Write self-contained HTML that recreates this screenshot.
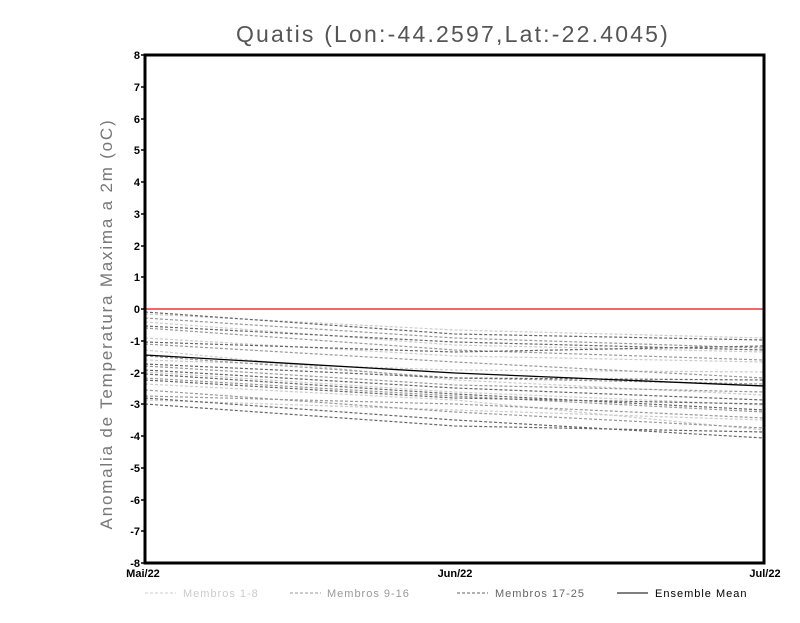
<!DOCTYPE html>
<html><head><style>body{margin:0;background:#fff}</style></head><body>
<svg width="800" height="618" xmlns="http://www.w3.org/2000/svg" font-family="Liberation Sans, sans-serif">
<rect width="800" height="618" fill="#fff"/>
<text x="453" y="42" text-anchor="middle" font-size="23" fill="#555" letter-spacing="2.2">Quatis (Lon:-44.2597,Lat:-22.4045)</text>
<text transform="translate(112,324) rotate(-90)" text-anchor="middle" font-size="17" fill="#777" letter-spacing="1.8">Anomalia de Temperatura Maxima a 2m (oC)</text>
<g fill="none" stroke-width="1.2" stroke-dasharray="3,2">
<g stroke="#ccc">
<polyline points="145,314 455,330 764,338"/>
<polyline points="145,322 455,345 764,352"/>
<polyline points="145,360 455,370 764,372"/>
<polyline points="145,372 455,392 764,405"/>
<polyline points="145,400 455,410 764,420"/>
<polyline points="145,338 455,356 764,362"/>
<polyline points="145,384 455,400 764,430"/>
<polyline points="145,350 455,380 764,395"/>
</g>
<g stroke="#999">
<polyline points="145,318 455,338 764,348"/>
<polyline points="145,328 455,350 764,360"/>
<polyline points="145,366 455,385 764,392"/>
<polyline points="145,378 455,396 764,412"/>
<polyline points="145,396 455,404 764,418"/>
<polyline points="145,344 455,362 764,378"/>
<polyline points="145,390 455,412 764,428"/>
<polyline points="145,356 455,378 764,384"/>
</g>
<g stroke="#666">
<polyline points="145,312 455,334 764,340"/>
<polyline points="145,326 455,342 764,350"/>
<polyline points="145,342 455,352 764,346"/>
<polyline points="145,364 455,378 764,380"/>
<polyline points="145,370 455,388 764,400"/>
<polyline points="145,374 455,394 764,410"/>
<polyline points="145,380 455,398 764,404"/>
<polyline points="145,398 455,420 764,438"/>
<polyline points="145,404 455,426 764,432"/>
</g>
</g>
<line x1="145" y1="309" x2="764" y2="309" stroke="#e33" stroke-width="1.5"/>
<polyline points="145,355 455,373 764,386" fill="none" stroke="#000" stroke-width="1.3"/>
<rect x="145" y="55" width="619" height="508" fill="none" stroke="#000" stroke-width="3"/>
<g font-size="11" font-weight="bold" text-anchor="end" fill="#000">
<text x="140" y="59">8</text><text x="140" y="91">7</text><text x="140" y="123">6</text><text x="140" y="154">5</text><text x="140" y="186">4</text><text x="140" y="218">3</text><text x="140" y="250">2</text><text x="140" y="281">1</text><text x="140" y="313">0</text><text x="140" y="345">-1</text><text x="140" y="377">-2</text><text x="140" y="408">-3</text><text x="140" y="440">-4</text><text x="140" y="472">-5</text><text x="140" y="504">-6</text><text x="140" y="535">-7</text><text x="140" y="567">-8</text>
</g>
<g stroke="#000" stroke-width="1.5">
<line x1="141" y1="55" x2="145" y2="55"/><line x1="141" y1="87" x2="145" y2="87"/><line x1="141" y1="119" x2="145" y2="119"/><line x1="141" y1="150" x2="145" y2="150"/><line x1="141" y1="182" x2="145" y2="182"/><line x1="141" y1="214" x2="145" y2="214"/><line x1="141" y1="246" x2="145" y2="246"/><line x1="141" y1="277" x2="145" y2="277"/><line x1="141" y1="309" x2="145" y2="309"/><line x1="141" y1="341" x2="145" y2="341"/><line x1="141" y1="373" x2="145" y2="373"/><line x1="141" y1="404" x2="145" y2="404"/><line x1="141" y1="436" x2="145" y2="436"/><line x1="141" y1="468" x2="145" y2="468"/><line x1="141" y1="500" x2="145" y2="500"/><line x1="141" y1="531" x2="145" y2="531"/><line x1="141" y1="563" x2="145" y2="563"/>
</g>
<g font-size="11" font-weight="bold" text-anchor="middle" fill="#000">
<text x="143" y="577">Mai/22</text><text x="455" y="577">Jun/22</text><text x="765" y="577">Jul/22</text>
</g>
<g font-size="11" letter-spacing="1">
<line x1="145" y1="593" x2="176" y2="593" stroke="#ccc" stroke-dasharray="3,2"/>
<text x="183" y="597" fill="#ccc">Membros 1-8</text>
<line x1="290" y1="593" x2="321" y2="593" stroke="#999" stroke-dasharray="3,2"/>
<text x="327" y="597" fill="#999">Membros 9-16</text>
<line x1="457" y1="593" x2="488" y2="593" stroke="#666" stroke-dasharray="3,2"/>
<text x="495" y="597" fill="#666">Membros 17-25</text>
<line x1="617" y1="593" x2="648" y2="593" stroke="#000"/>
<text x="655" y="597" fill="#000">Ensemble Mean</text>
</g>
</svg>
</body></html>
